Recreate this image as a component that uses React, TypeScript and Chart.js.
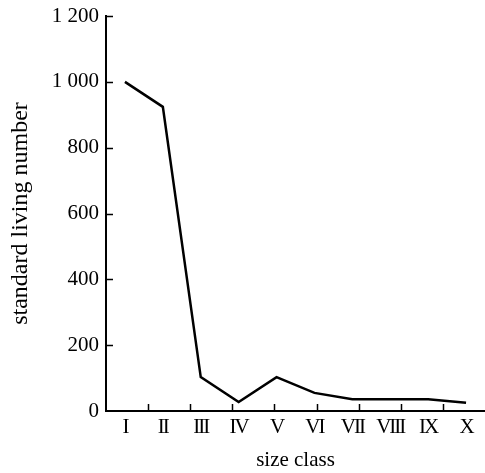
import React, { useEffect, useRef } from "react";
import { Chart, registerables } from "chart.js";

Chart.register(...registerables);

const categories = ["I", "II", "III", "IV", "V", "VI", "VII", "VIII", "IX", "X"];
const standardLiving = [1000, 924, 103, 27, 103, 55, 36, 36, 36, 25];
const yTicks = [0, 200, 400, 600, 800, 1000, 1200];
const X_TICK_DIVISIONS = 9;

const FONT = "'Liberation Serif', 'Times New Roman', serif";

const innerTicks = {
  id: "innerTicks",
  afterLayout(chart: any) {
    const x = chart.scales.x;
    if (!x.__patched) {
      const orig = x.drawLabels.bind(x);
      x.drawLabels = (area: any) => {
        const ctx = chart.ctx;
        ctx.save();
        try {
          ctx.letterSpacing = "-2px";
        } catch (e) {}
        orig(area);
        ctx.restore();
      };
      x.__patched = true;
    }
  },
  afterDraw(chart: any) {
    const { ctx } = chart;
    const x = chart.scales.x;
    const y = chart.scales.y;
    ctx.save();
    ctx.strokeStyle = "#000";
    ctx.lineWidth = 1.5;
    ctx.beginPath();
    for (const v of yTicks) {
      const py = Math.round(y.getPixelForValue(v)) + 0.5;
      if (v === 0) continue;
      ctx.moveTo(y.right, py);
      ctx.lineTo(y.right + 7, py);
    }
    const w = x.right - x.left;
    for (let k = 1; k < X_TICK_DIVISIONS; k++) {
      const px = Math.round(x.left + (k * w) / X_TICK_DIVISIONS) + 0.5;
      ctx.moveTo(px, x.top);
      ctx.lineTo(px, x.top - 7);
    }
    ctx.stroke();
    ctx.restore();
  },
};

function fmt(v: number) {
  if (v >= 1000) {
    return `${Math.floor(v / 1000)} ${String(v % 1000).padStart(3, "0")}`;
  }
  return String(v);
}

export default function App() {
  const ref = useRef<HTMLCanvasElement | null>(null);
  useEffect(() => {
    if (!ref.current) return;
    const chart = new Chart(ref.current, {
      type: "line",
      data: {
        labels: categories,
        datasets: [
          {
            data: standardLiving,
            borderColor: "#000",
            borderWidth: 2.5,
            pointRadius: 0,
            fill: false,
            tension: 0,
          },
        ],
      },
      plugins: [innerTicks],
      options: {
        animation: false,
        responsive: false,
        maintainAspectRatio: false,
        layout: { padding: { top: 16, right: 0, left: 0, bottom: 0 } },
        plugins: {
          legend: { display: false },
          tooltip: { enabled: false },
        },
        scales: {
          x: {
            type: "category",
            offset: true,
            grid: { display: true, drawOnChartArea: false, drawTicks: false, color: "rgba(0,0,0,0)" },
            border: { display: true, color: "#000", width: 2 },
            ticks: {
              color: "#000",
              font: { family: FONT, size: 21 },
              padding: 4,
              maxRotation: 0,
              autoSkip: false,
            },
            title: {
              display: true,
              text: "size class",
              color: "#000",
              font: { family: FONT, size: 21 },
              padding: { top: 0, bottom: 0 },
            },
            afterFit(scale: any) {
              scale.height = 62;
            },
          },
          y: {
            type: "linear",
            min: 0,
            max: 1200,
            afterBuildTicks(scale: any) {
              scale.ticks = yTicks.map((v) => ({ value: v }));
            },
            grid: { display: true, drawOnChartArea: false, drawTicks: false, color: "rgba(0,0,0,0)" },
            border: { display: true, color: "#000", width: 2 },
            ticks: {
              color: "#000",
              font: { family: FONT, size: 21 },
              padding: 7,
              callback: (v: any) => fmt(Number(v)),
            },
            title: {
              display: true,
              text: "standard living number",
              color: "#000",
              font: { family: FONT, size: 24 },
              padding: { top: 6, bottom: 0 },
            },
            afterFit(scale: any) {
              scale.width = 106;
              scale.paddingTop = 0;
              scale.paddingBottom = 0;
            },
          },
        },
      },
    });
    return () => chart.destroy();
  }, []);
  return (
    <div style={{ position: "absolute", left: 0, top: 0, width: 485, height: 473 }}>
      <canvas ref={ref} width={485} height={473} style={{ width: 485, height: 473 }} />
    </div>
  );
}
